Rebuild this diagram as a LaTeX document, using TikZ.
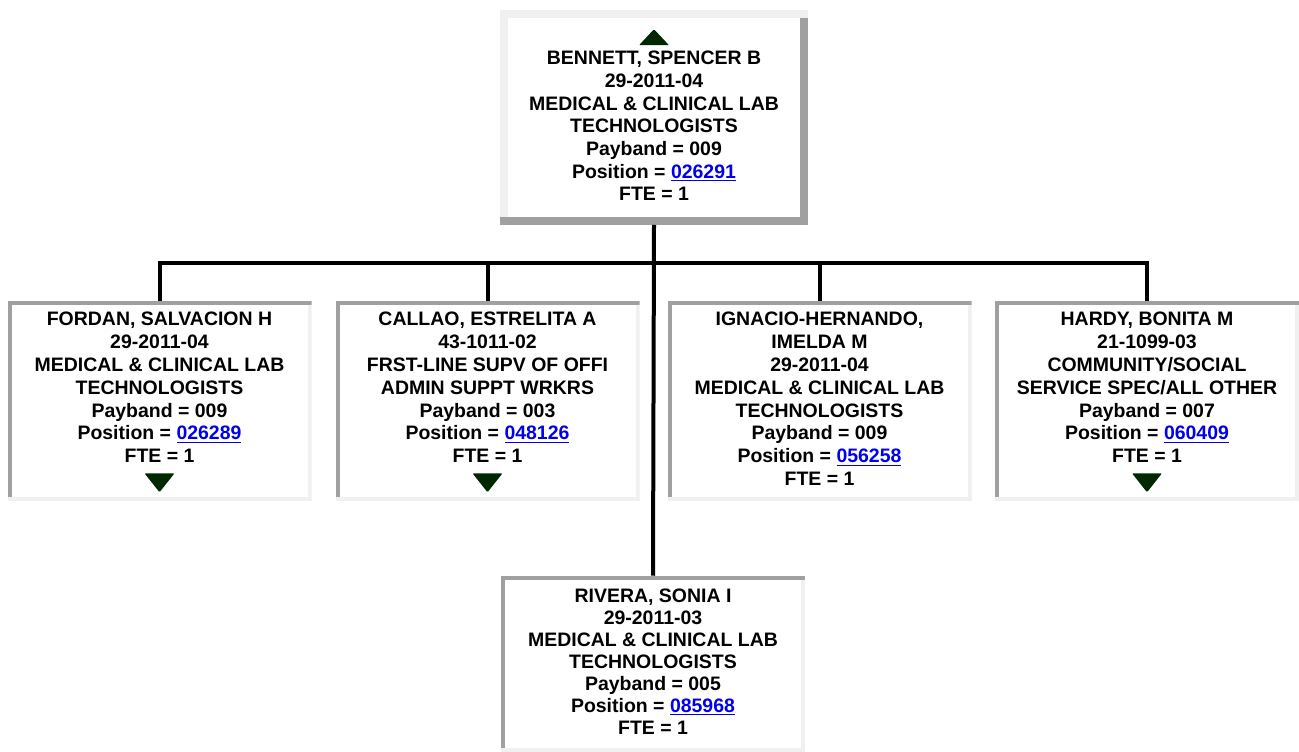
\documentclass[tikz,border=0pt]{standalone}
\usepackage{fontspec}
\setmainfont{Liberation Sans}

\definecolor{rimlight}{RGB}{240,240,240}
\definecolor{rimdark}{RGB}{160,160,160}
\definecolor{tipgreen}{RGB}{0,40,0}
\definecolor{linkblue}{RGB}{0,0,238}
\newcommand{\poslink}[1]{\textcolor{linkblue}{\underline{#1}}}

\begin{document}
\begin{tikzpicture}[x=0.75pt, y=-0.75pt, font=\fontsize{14.6pt}{17.2pt}\selectfont\bfseries]
\tikzstyle{card}=[rectangle, fill=white, align=center, inner sep=0pt, minimum width=228pt, minimum height=150pt]
\tikzstyle{raised}=[card, path picture={
  \fill[rimlight] (path picture bounding box.north west) rectangle ([yshift=-6pt]path picture bounding box.north east);
  \fill[rimlight] (path picture bounding box.north west) rectangle ([xshift=6pt]path picture bounding box.south west);
  \fill[rimdark] ([yshift=-6pt]path picture bounding box.north east) rectangle ([xshift=-6pt]path picture bounding box.south east);
  \fill[rimdark] (path picture bounding box.south west) rectangle ([yshift=6pt]path picture bounding box.south east);}]
\tikzstyle{sunken}=[card, path picture={
  \fill[rimdark] (path picture bounding box.north west) rectangle ([yshift=-3pt]path picture bounding box.north east);
  \fill[rimdark] (path picture bounding box.north west) rectangle ([xshift=3pt]path picture bounding box.south west);
  \fill[rimlight] ([yshift=-3pt]path picture bounding box.north east) rectangle ([xshift=-3pt]path picture bounding box.south east);
  \fill[rimlight] (path picture bounding box.south west) rectangle ([yshift=3pt]path picture bounding box.south east);}]
\tikzstyle{wire}=[line width=3pt, black]
\tikzstyle{tip}=[tipgreen, rounded corners=0.8pt]
\useasboundingbox[fill=white] (0,0) rectangle (1299,751);

% manager
\node[raised, minimum width=231pt, minimum height=161.25pt, font=\fontsize{14.6pt}{17pt}\selectfont\bfseries] (boss) at (654,117) {\strut\\BENNETT, SPENCER B\\29-2011-04\\MEDICAL \& CLINICAL LAB\\TECHNOLOGISTS\\Payband = 009\\Position = \poslink{026291}\\FTE = 1\strut};

% direct reports
\node[sunken] (c1) at (159.5,401) {\strut FORDAN, SALVACION H\\29-2011-04\\MEDICAL \& CLINICAL LAB\\TECHNOLOGISTS\\Payband = 009\\Position = \poslink{026289}\\FTE = 1\\\strut};
\node[sunken] (c2) at (487.5,401) {\strut CALLAO, ESTRELITA A\\43-1011-02\\FRST-LINE SUPV OF OFFI\\ADMIN SUPPT WRKRS\\Payband = 003\\Position = \poslink{048126}\\FTE = 1\\\strut};
\node[sunken] (c3) at (819.5,401) {\strut IGNACIO-HERNANDO,\\IMELDA M\\29-2011-04\\MEDICAL \& CLINICAL LAB\\TECHNOLOGISTS\\Payband = 009\\Position = \poslink{056258}\\FTE = 1\strut};
\node[sunken] (c4) at (1147,401) {\strut HARDY, BONITA M\\21-1099-03\\COMMUNITY/SOCIAL\\SERVICE SPEC/ALL OTHER\\Payband = 007\\Position = \poslink{060409}\\FTE = 1\\\strut};
\node[sunken, minimum height=132pt, font=\fontsize{14.6pt}{16.5pt}\selectfont\bfseries] (c5) at (653,664) {\strut RIVERA, SONIA I\\29-2011-03\\MEDICAL \& CLINICAL LAB\\TECHNOLOGISTS\\Payband = 005\\Position = \poslink{085968}\\FTE = 1\strut};

% connectors
\coordinate (bus) at (654,263);
\draw[wire] (boss.south) -- (c5.north);
\draw[wire] (c1.north) |- (bus) -| (c4.north);
\draw[wire] (c2.north) -- (c2.north |- bus);
\draw[wire] (c3.north) -- (c3.north |- bus);

% expand / collapse tips
\fill[tip, shift={(boss.north)}] (-15,36) -- (15,36) -- (0,20) -- cycle;
\foreach \b in {c1,c2,c4}
  \fill[tip, shift={(\b.south)}] (-15,-28) -- (15,-28) -- (0,-9) -- cycle;
\end{tikzpicture}
\end{document}
